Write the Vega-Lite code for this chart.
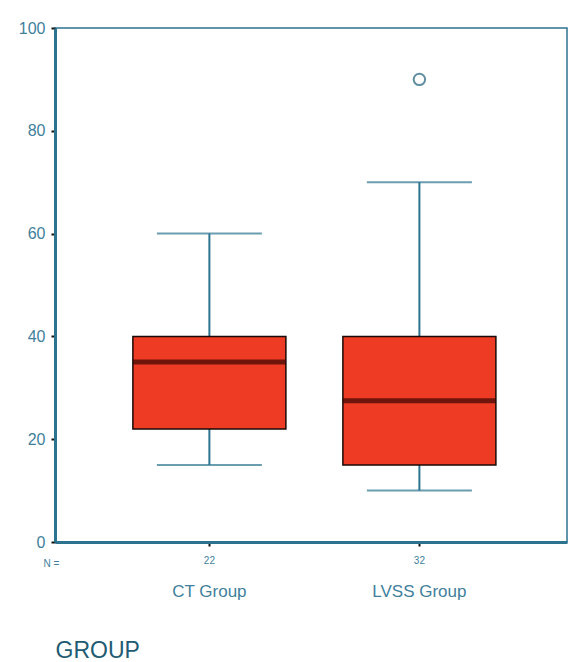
{
  "$schema": "https://vega.github.io/schema/vega-lite/v6.json",
  "autosize": "none",
  "width": 512,
  "height": 514,
  "padding": {"left": 55, "top": 28, "right": 5, "bottom": 120},
  "background": "white",
  "config": {
    "font": "Liberation Sans",
    "view": {"stroke": "#2c7390", "strokeWidth": 1.5}
  },
  "datasets": {
    "boxes": [
      {"group": "CT Group", "n": "22", "lower": 15, "q1": 22, "median": 35, "q3": 40, "upper": 60},
      {"group": "LVSS Group", "n": "32", "lower": 10, "q1": 15, "median": 27.5, "q3": 40, "upper": 70}
    ],
    "outliers": [
      {"group": "LVSS Group", "value": 90}
    ]
  },
  "resolve": {"axis": {"x": "independent"}},
  "layer": [
    {
      "data": {"name": "boxes"},
      "mark": {"type": "rule", "color": "#2c7390", "strokeWidth": 2},
      "encoding": {
        "x": {
          "field": "group", "type": "nominal", "sort": ["CT Group", "LVSS Group"],
          "scale": {"paddingInner": 0.1, "paddingOuter": 0.269, "align": 0.53},
          "axis": {
            "orient": "bottom",
            "labelExpr": "datum.value == 'CT Group' ? '22' : '32'",
            "labelAngle": 0, "labelFontSize": 10, "labelColor": "#3f7f9c", "labelPadding": 9,
            "tickColor": "#111111", "tickSize": 4, "tickWidth": 2,
            "domainColor": "#2c7390", "domainWidth": 3,
            "title": "N =", "titleFontSize": 10, "titleFontWeight": "normal", "titleColor": "#3f7f9c",
            "titleAnchor": "start", "titleAlign": "left", "titleBaseline": "top",
            "titleX": -12, "titleY": 16
          }
        },
        "y": {
          "field": "lower", "type": "quantitative",
          "scale": {"domain": [0, 100], "nice": false},
          "axis": {
            "values": [0, 20, 40, 60, 80, 100], "grid": false, "title": null,
            "labelFontSize": 16, "labelColor": "#3f7f9c", "labelPadding": 6,
            "tickColor": "#111111", "tickSize": 4, "tickWidth": 2,
            "domainColor": "#2c7390", "domainWidth": 3
          }
        },
        "y2": {"field": "upper"}
      }
    },
    {
      "data": {"name": "boxes"},
      "mark": {"type": "tick", "color": "#2c7390", "thickness": 2, "size": 105},
      "encoding": {
        "x": {
          "field": "group", "type": "nominal", "sort": ["CT Group", "LVSS Group"],
          "axis": {
            "orient": "bottom", "labelAngle": 0, "labelFontSize": 17, "labelColor": "#3f7f9c",
            "labelPadding": 41, "ticks": false, "domain": false,
            "title": "GROUP", "titleFontSize": 23, "titleFontWeight": "normal", "titleColor": "#1e5b72",
            "titleAnchor": "start", "titleAlign": "left", "titleBaseline": "top",
            "titleX": 0, "titleY": 97
          }
        },
        "y": {"field": "lower", "type": "quantitative"}
      }
    },
    {
      "data": {"name": "boxes"},
      "mark": {"type": "tick", "color": "#2c7390", "thickness": 2, "size": 105},
      "encoding": {
        "x": {"field": "group", "type": "nominal", "sort": ["CT Group", "LVSS Group"], "axis": null},
        "y": {"field": "upper", "type": "quantitative"}
      }
    },
    {
      "data": {"name": "boxes"},
      "mark": {"type": "bar", "width": 153, "fill": "#ee3b24", "stroke": "#1a0a05", "strokeWidth": 1.5},
      "encoding": {
        "x": {"field": "group", "type": "nominal", "sort": ["CT Group", "LVSS Group"], "axis": null},
        "y": {"field": "q1", "type": "quantitative"},
        "y2": {"field": "q3"}
      }
    },
    {
      "data": {"name": "boxes"},
      "mark": {"type": "tick", "color": "#3b0603", "thickness": 5, "size": 153},
      "encoding": {
        "x": {"field": "group", "type": "nominal", "sort": ["CT Group", "LVSS Group"], "axis": null},
        "y": {"field": "median", "type": "quantitative"}
      }
    },
    {
      "data": {"name": "outliers"},
      "mark": {"type": "point", "shape": "circle", "size": 130, "filled": false, "stroke": "#1f5f7a", "strokeWidth": 2},
      "encoding": {
        "x": {"field": "group", "type": "nominal", "sort": ["CT Group", "LVSS Group"], "axis": null},
        "y": {"field": "value", "type": "quantitative"}
      }
    }
  ]
}
